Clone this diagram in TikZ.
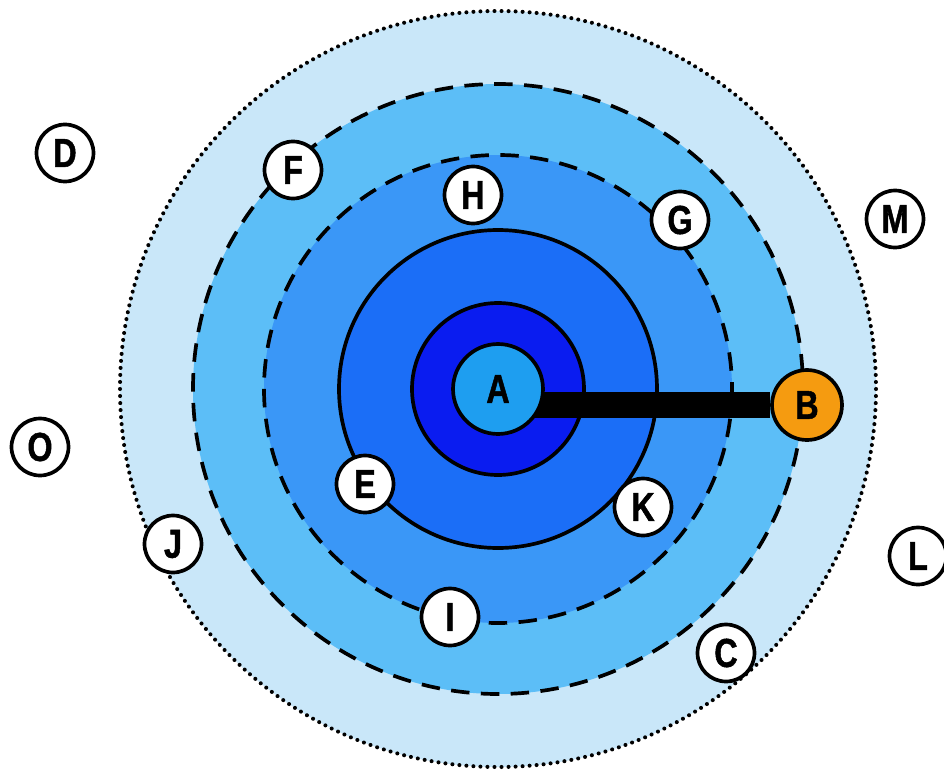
\documentclass[tikz,border=0pt]{standalone}
\usepackage{fontspec}
\usetikzlibrary{backgrounds}
\newfontfamily\letterfont[FakeStretch=0.8,FakeBold=1.2]{Liberation Sans}
\definecolor{zonefar}{HTML}{C9E7F9}
\definecolor{zonewide}{HTML}{5CBEF7}
\definecolor{zonemid}{HTML}{3A97F7}
\definecolor{zonenear}{HTML}{1B6EF7}
\definecolor{zonecore}{HTML}{0A1CF0}
\definecolor{coreblue}{HTML}{1E9EF0}
\definecolor{hubyellow}{HTML}{F59B10}
\begin{document}
\begin{tikzpicture}[
	x=0.02cm, y=-0.02cm,
	marker/.style={ circle, draw, line width=2.1pt, fill=white, inner sep=0pt, minimum size=1.14cm,
		font=\letterfont\bfseries\fontsize{23}{23}\selectfont },
	core/.style={ marker, fill=coreblue, minimum size=1.8cm },
	hub/.style={ marker, fill=hubyellow, minimum size=1.4cm },
	dotring/.style={ draw, line width=2.3pt, line cap=round, dash pattern=on 0pt off 4pt },
	dashring/.style={ draw, line width=2.1pt, dash pattern=on 10.5pt off 6.5pt },
	solidring/.style={ draw, line width=2.1pt }
]

\useasboundingbox (0,0) rectangle (944,771);
\coordinate (ctr) at (498,389);

\node at (498,389) (A) [core] {A};
\node at (807,405) (B) [hub] {B};

\node at (726,653) (C) [marker] {C};
\node at (65,153) (D) [marker] {D};
\node at (365,484) (E) [marker] {E};
\node at (293,170) (F) [marker] {F};
\node at (680,220) (G) [marker] {G};
\node at (473,195) (H) [marker] {H};
\node at (450,617) (I) [marker] {I};
\node at (173,544) (J) [marker] {J};
\node at (643,507) (K) [marker] {K};
\node at (918,556) (L) [marker] {L};
\node at (895,219) (M) [marker] {M};
\node at (40,447) (O) [marker] {O};

% zones, outside in, and the link under the nodes
\begin{pgfonlayer}{background}
\path[dotring,fill=zonefar] (ctr) circle (378);
\path[dashring,fill=zonewide] (ctr) circle (305);
\path[dashring,fill=zonemid] (ctr) circle (234);
\path[solidring,fill=zonenear] (ctr) circle (159);
\path[solidring,fill=zonecore] (ctr) circle (86);
\draw[line width=14.5pt] (A.center |- B.center) -- (B);
\end{pgfonlayer}

\end{tikzpicture}
\end{document}
